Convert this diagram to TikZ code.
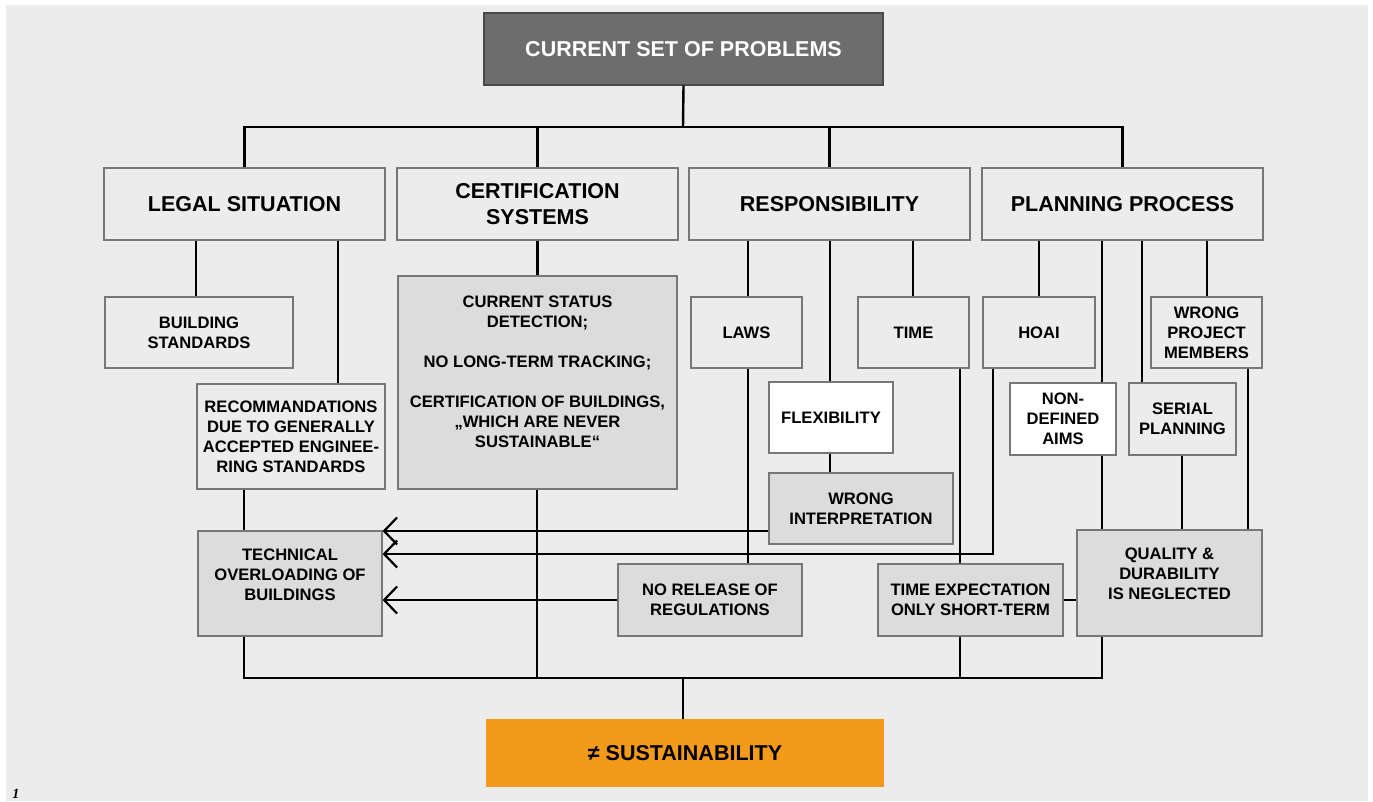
\documentclass[tikz,border=0pt]{standalone}
\usepackage{fontspec}
\setmainfont{Liberation Sans}
\newfontfamily\serifit{Liberation Serif}
\usetikzlibrary{arrows.meta,calc}
\definecolor{bgc}{HTML}{ECECEC}
\definecolor{midg}{HTML}{DCDCDC}
\definecolor{darkg}{HTML}{6D6D6D}
\definecolor{darkedge}{HTML}{4A4A4A}
\definecolor{edgeg}{HTML}{777777}
\definecolor{orng}{HTML}{F39A1A}
\begin{document}
\begin{tikzpicture}[x=1pt,y=-1pt,
  box/.style={draw=edgeg, line width=1.1pt, fill=bgc, inner sep=0pt, align=center,
    font=\bfseries\fontsize{16.6}{20}\selectfont},
  head/.style={box, font=\bfseries\fontsize{21.5}{26}\selectfont, minimum width=281pt, minimum height=72pt},
  lite/.style={fill=white},
  mid/.style={fill=midg},
  txt/.style={align=center, inner sep=0pt, font=\bfseries\fontsize{16.6}{20}\selectfont},
  conn/.style={line width=2.4pt, black},
  arr/.style={conn, -{Straight Barb[length=13pt,width=27pt,line width=2.2pt]}},
]
\useasboundingbox (0,0) rectangle (1373,801);
\fill[white] (0,0) rectangle (1373,801);
\fill[bgc] (6,5) rectangle (1368,801);

% top
\node[box, fill=darkg, draw=darkedge, text=white, font=\bfseries\fontsize{21.5}{26}\selectfont,
  minimum width=399pt, minimum height=72pt] (top) at (683.5,49) {CURRENT SET OF PROBLEMS};

% headers
\node[head] (legal) at (244.5,204) {LEGAL SITUATION};
\node[head] (cert) at (537.5,204) {CERTIFICATION\\SYSTEMS};
\node[head] (resp) at (829.5,204) {RESPONSIBILITY};
\node[head] (plan) at (1122.5,204) {PLANNING PROCESS};

% legal
\node[box, minimum width=188pt, minimum height=71pt] (bstd) at (199,332.5) {BUILDING\\STANDARDS};
\node[box, minimum width=188pt, minimum height=105pt] (recomm) at (291,436.5)
  {RECOMMANDATIONS\\DUE TO GENERALLY\\ACCEPTED ENGINEE-\\RING STANDARDS};

% certification
\node[box, mid, minimum width=279pt, minimum height=213pt,
  label={[txt, yshift=11pt]center:CURRENT STATUS\\DETECTION;\\[20pt]NO LONG-TERM TRACKING;\\[20pt]CERTIFICATION OF BUILDINGS,\\„WHICH ARE NEVER\\SUSTAINABLE“}]
  (certbox) at (537.5,382.5) {};

% responsibility
\node[box, minimum width=111pt, minimum height=71pt] (laws) at (746.5,332.5) {LAWS};
\node[box, lite, minimum width=124pt, minimum height=71pt] (flex) at (831,417.5) {FLEXIBILITY};
\node[box, mid, minimum width=184pt, minimum height=71pt] (wrong) at (861,508.5) {WRONG\\INTERPRETATION};
\node[box, minimum width=111pt, minimum height=71pt] (time) at (913.5,332.5) {TIME};

% planning
\node[box, minimum width=112pt, minimum height=71pt] (hoai) at (1039,332.5) {HOAI};
\node[box, lite, minimum width=106pt, minimum height=72pt] (nondef) at (1063,419) {NON-\\DEFINED\\AIMS};
\node[box, minimum width=107pt, minimum height=72pt] (serial) at (1182.5,419) {SERIAL\\PLANNING};
\node[box, minimum width=111pt, minimum height=71pt] (wproj) at (1206.5,332.5) {WRONG\\PROJECT\\MEMBERS};

% consequences
\node[box, mid, minimum width=184pt, minimum height=105pt,
  label={[txt, yshift=8.5pt]center:TECHNICAL\\OVERLOADING OF\\BUILDINGS}] (tech) at (290,583.5) {};
\node[box, mid, minimum width=184pt, minimum height=72pt] (norel) at (710,600) {NO RELEASE OF\\REGULATIONS};
\node[box, mid, minimum width=185pt, minimum height=72pt] (timeexp) at (970.5,600) {TIME EXPECTATION\\ONLY SHORT-TERM};
\node[box, mid, minimum width=185pt, minimum height=106pt,
  label={[txt, yshift=9pt]center:QUALITY \&\\DURABILITY\\IS NEGLECTED}] (quality) at (1169.5,583) {};

% result
\node[fill=orng, inner sep=0pt, minimum width=398pt, minimum height=68pt,
  font=\bfseries\fontsize{21.5}{26}\selectfont] (sust) at (685,753) {≠ SUSTAINABILITY};

\node[font=\serifit\bfseries\itshape\fontsize{14}{16}\selectfont, inner sep=0pt] (num) at (16,794) {1};

% connectors top
\coordinate (bar) at (683,127);
\draw[conn] (top.south) -- (bar);
\draw[conn] (legal.north) |- (bar) -| (plan.north);
\draw[conn] (cert.north) -- (cert.north |- bar);
\draw[conn] (resp.north) -- (resp.north |- bar);

% legal
\draw[conn] (legal.south -| 196,0) -- (bstd.north -| 196,0);
\draw[conn] (legal.south -| 338,0) -- (recomm.north -| 338,0);
\draw[conn] (recomm.south -| 244,0) -- (tech.north -| 244,0);
\draw[conn] (cert.south) -- (certbox.north);

% responsibility
\draw[conn] (resp.south -| 748,0) -- (laws.north -| 748,0);
\draw[conn] (laws.south -| 748,0) -- (norel.north -| 748,0);
\draw[conn] (resp.south -| 830,0) -- (flex.north -| 830,0);
\draw[conn] (flex.south -| 830,0) -- (wrong.north -| 830,0);
\draw[conn] (resp.south -| 913,0) -- (time.north -| 913,0);
\draw[conn] (time.south -| 960,0) -- (timeexp.north -| 960,0);

% planning
\draw[conn] (plan.south -| 1039,0) -- (hoai.north -| 1039,0);
\draw[conn] (plan.south -| 1102,0) -- (nondef.north -| 1102,0);
\draw[conn] (plan.south -| 1142,0) -- (serial.north -| 1142,0);
\draw[conn] (plan.south -| 1207,0) -- (wproj.north -| 1207,0);
\draw[conn] (nondef.south -| 1102,0) -- (quality.north -| 1102,0);
\draw[conn] (serial.south -| 1182,0) -- (quality.north -| 1182,0);
\draw[conn] (wproj.south -| 1248,0) -- (quality.north -| 1248,0);
\draw[conn] (timeexp.east) -- (quality.west |- timeexp.east);

% arrows into technical overloading
\draw[arr] (wrong.west |- 0,531) -- (tech.east |- 0,531);
\draw[arr] (hoai.south -| 993,0) |- (tech.east |- 0,554);
\draw[arr] (norel.west) -- (tech.east |- norel.west);

% bottom
\coordinate (bot) at (683,678);
\draw[conn] (tech.south -| 244,0) |- (bot) -| (quality.south -| 1102,0);
\draw[conn] (certbox.south -| 537,0) -- (bot -| 537,0);
\draw[conn] (timeexp.south -| 960,0) -- (bot -| 960,0);
\draw[conn] (bot) -- (sust.north -| bot);
\end{tikzpicture}
\end{document}
